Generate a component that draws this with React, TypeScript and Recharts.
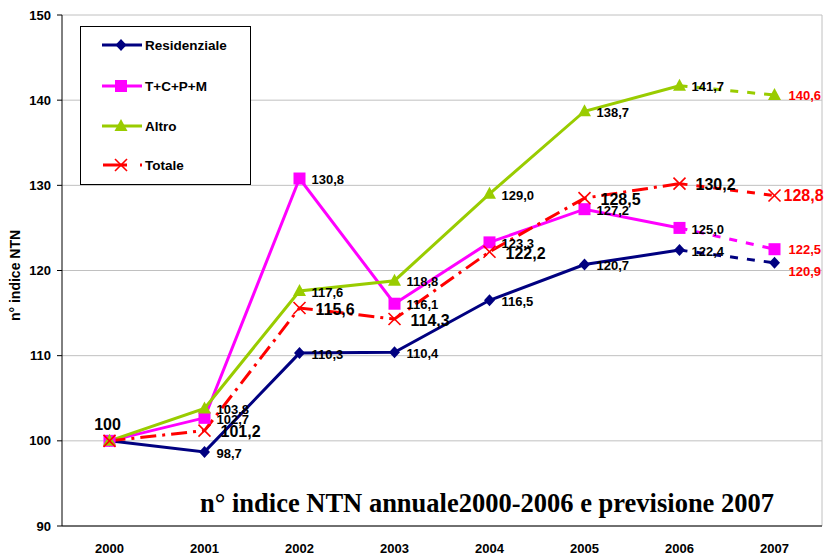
import { LineChart, Line, XAxis, YAxis, CartesianGrid, Legend, LabelList, ReferenceLine } from 'recharts';

// anni e valori indice (2000 = 100)
const years = [2000, 2001, 2002, 2003, 2004, 2005, 2006, 2007];
const residenziale = [100, 98.7, 110.3, 110.4, 116.5, 120.7, 122.4];
const tcpm = [100, 102.7, 130.8, 116.1, 123.3, 127.2, 125.0];
const altro = [100, 103.8, 117.6, 118.8, 129.0, 138.7, 141.7];
const totale = [100, 101.2, 115.6, 114.3, 122.2, 128.5, 130.2];

// previsione 2007
const prevResidenziale = 120.9;
const prevTcpm = 122.5;
const prevAltro = 140.6;
const prevTotale = 128.8;

const yTicks = [90, 100, 110, 120, 130, 140, 150];
const edgeTicks = [1999.5, 2000.5, 2001.5, 2002.5, 2003.5, 2004.5, 2005.5, 2006.5, 2007.5];

const FONT = '"Liberation Sans", Arial, sans-serif';

const series = [
  { key: 'res', name: 'Residenziale', color: '#000080', shape: 'diamond', values: residenziale, prev: prevResidenziale },
  { key: 'tcpm', name: 'T+C+P+M', color: '#FF00FF', shape: 'square', values: tcpm, prev: prevTcpm },
  { key: 'altro', name: 'Altro', color: '#99CC00', shape: 'triangle', values: altro, prev: prevAltro },
  { key: 'tot', name: 'Totale', color: '#FF0000', shape: 'x', values: totale, prev: prevTotale },
];

const data = years.map((year, i) => {
  const row: any = { year };
  series.forEach((s) => {
    row[s.key] = i < s.values.length ? s.values[i] : null;
    row[s.key + 'P'] = i === 6 ? s.values[6] : i === 7 ? s.prev : null;
  });
  return row;
});

const fmt = (v: number) => v.toFixed(1).replace('.', ',');

function Marker({ shape, cx, cy, color }: { shape: string; cx: number; cy: number; color: string }) {
  if (shape === 'diamond')
    return <polygon points={`${cx},${cy - 6} ${cx + 5.5},${cy} ${cx},${cy + 6} ${cx - 5.5},${cy}`} fill={color} />;
  if (shape === 'square') return <rect x={cx - 6} y={cy - 6} width={12} height={12} fill={color} />;
  if (shape === 'triangle')
    return <polygon points={`${cx},${cy - 7} ${cx + 6.5},${cy + 5} ${cx - 6.5},${cy + 5}`} fill={color} />;
  return (
    <g stroke={color} strokeWidth={1.6}>
      <line x1={cx - 6} y1={cy - 6} x2={cx + 6} y2={cy + 6} />
      <line x1={cx - 6} y1={cy + 6} x2={cx + 6} y2={cy - 6} />
    </g>
  );
}

const makeDot = (shape: string, color: string, onlyLast: boolean) => (p: any) => {
  const key = `d-${p.index}`;
  if (p.cx == null || p.cy == null || p.value == null) return <g key={key} />;
  if (onlyLast && p.index !== 7) return <g key={key} />;
  return (
    <g key={key}>
      <Marker shape={shape} cx={p.cx} cy={p.cy} color={color} />
    </g>
  );
};

const makeLabel = (big: boolean, forecast: boolean, key: string) => (p: any) => {
  const { x, y, value, index } = p;
  if (x == null || y == null || value == null) return <g />;
  const size = big ? 16 : 13;
  if (forecast) {
    if (index !== 7) return <g />;
    const dx = key === 'tot' ? 9 : 14;
    const dy = key === 'res' ? 8 : 0;
    return (
      <text x={x + dx} y={y + dy} dy="0.36em" fill="#FF0000" fontSize={size} fontWeight="bold" fontFamily={FONT}>
        {fmt(Number(value))}
      </text>
    );
  }
  if (index === 0) {
    if (key !== 'tot') return <g />;
    return (
      <text x={x - 2} y={y - 17} dy="0.36em" textAnchor="middle" fontSize={16} fontWeight="bold" fontFamily={FONT}>
        100
      </text>
    );
  }
  return (
    <text x={x + (big ? 16 : 12)} y={y + 1} dy="0.36em" fill="#000" fontSize={size} fontWeight="bold" fontFamily={FONT}>
      {fmt(Number(value))}
    </text>
  );
};

function LegendBox() {
  const rows = [19, 60, 100, 139];
  return (
    <div style={{ width: 171, height: 159, border: '1px solid #000', background: '#fff', boxSizing: 'border-box' }}>
      <svg width={169} height={157} style={{ display: 'block' }}>
        {series.map((s, i) => {
          const cy = rows[i] - 1;
          return (
            <g key={s.key}>
              {s.shape === 'x' ? (
                <g>
                  <line x1={22} y1={cy} x2={46} y2={cy} stroke={s.color} strokeWidth={3} />
                  <line x1={59} y1={cy} x2={61} y2={cy} stroke={s.color} strokeWidth={3} />
                </g>
              ) : (
                <line x1={21} y1={cy} x2={61} y2={cy} stroke={s.color} strokeWidth={3} />
              )}
              <Marker shape={s.shape} cx={40} cy={cy} color={s.color} />
              <text x={64} y={cy} dy="0.36em" fontSize={13.5} fontWeight="bold" fontFamily={FONT}>
                {s.name}
              </text>
            </g>
          );
        })}
      </svg>
    </div>
  );
}

const renderYTitle = (p: any) => {
  const vb = p.viewBox || { x: 0, y: 15, width: 62, height: 511 };
  const x = vb.x + 15;
  const y = vb.y + vb.height / 2 + 5;
  return (
    <text x={x} y={y} dy="0.36em" textAnchor="middle" transform={`rotate(-90 ${x} ${y})`} fontSize={14} fontWeight="bold" fontFamily={FONT}>
      n° indice NTN
    </text>
  );
};

export default function App() {
  return (
    <div style={{ position: 'absolute', left: 0, top: 0, width: 826, height: 557, background: '#fff' }}>
      <LineChart width={826} height={557} data={data} margin={{ top: 15, right: 4, left: 0, bottom: 0 }}>
        <CartesianGrid vertical={false} stroke="#c0c0c0" xAxisId="lbl" />
        <XAxis
          xAxisId="edge"
          type="number"
          dataKey="year"
          domain={[1999.5, 2007.5]}
          ticks={edgeTicks}
          tick={false}
          tickSize={5}
          height={8}
          stroke="#000"
          allowDataOverflow
        />
        <XAxis
          xAxisId="lbl"
          type="number"
          dataKey="year"
          domain={[1999.5, 2007.5]}
          ticks={years}
          axisLine={false}
          tickLine={false}
          tickMargin={4}
          height={23}
          tick={{ fill: '#000', fontSize: 13, fontWeight: 'bold', fontFamily: FONT }}
          allowDataOverflow
        />
        <YAxis
          type="number"
          domain={[90, 150]}
          ticks={yTicks}
          width={62}
          tickSize={5}
          tickMargin={6}
          stroke="#000"
          tick={{ fill: '#000', fontSize: 13, fontWeight: 'bold', fontFamily: FONT }}
          label={{ content: renderYTitle }}
        />
        <ReferenceLine xAxisId="lbl" x={2007.5} stroke="#c0c0c0" />
        <Legend
          layout="vertical"
          align="center"
          verticalAlign="middle"
          wrapperStyle={{ left: 80, top: 26, width: 171, height: 159 }}
          content={() => <LegendBox />}
        />
        {series.map((s) => (
          <Line
            key={s.key + 'P'}
            xAxisId="lbl"
            dataKey={s.key + 'P'}
            stroke={s.color}
            strokeWidth={3}
            strokeDasharray="8 9"
            dot={makeDot(s.shape, s.color, true)}
            activeDot={false}
            legendType="none"
            isAnimationActive={false}
            connectNulls={false}
          >
            <LabelList dataKey={s.key + 'P'} content={makeLabel(s.key === 'tot', true, s.key)} />
          </Line>
        ))}
        {series.map((s) => (
          <Line
            key={s.key}
            xAxisId="lbl"
            dataKey={s.key}
            name={s.name}
            stroke={s.color}
            strokeWidth={3}
            strokeDasharray={s.key === 'tot' ? '16 6 3 6' : undefined}
            dot={makeDot(s.shape, s.color, false)}
            activeDot={false}
            isAnimationActive={false}
          >
            <LabelList dataKey={s.key} content={makeLabel(s.key === 'tot', false, s.key)} />
          </Line>
        ))}
      </LineChart>
      <div
        style={{
          position: 'absolute',
          left: 200,
          top: 490,
          fontFamily: '"Liberation Serif", "Times New Roman", serif',
          fontWeight: 'bold',
          fontSize: 26.5,
          lineHeight: 1,
          whiteSpace: 'nowrap',
          color: '#000',
        }}
      >
        n° indice NTN annuale2000-2006 e previsione 2007
      </div>
    </div>
  );
}
